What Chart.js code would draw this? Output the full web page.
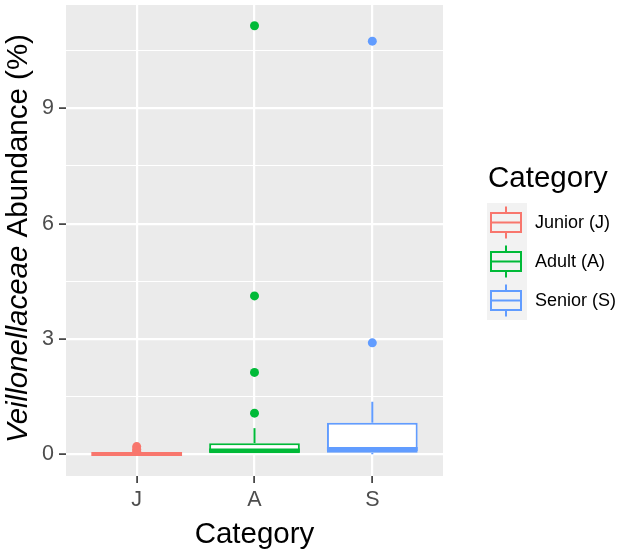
<!DOCTYPE html>
<html>
<head>
<meta charset="utf-8">
<script src="https://cdn.jsdelivr.net/npm/chart.js@4.4.0/dist/chart.umd.min.js"></script>
<style>
  html, body { margin: 0; padding: 0; background: #fff; }
  canvas { display: block; }
</style>
</head>
<body>
<canvas id="myChart" width="624" height="553"></canvas>
<script>
// box plot summary per group
const categories = ['J', 'A', 'S'];
const groupNames = ['Junior (J)', 'Adult (A)', 'Senior (S)'];
const whiskerLow = [0, 0, 0];
const q1 = [0, 0, 0.04];
const medians = [0.01, 0.1, 0.14];
const q3 = [0.02, 0.29, 0.82];
const whiskerHigh = [0.03, 0.68, 1.37];
const outliersJ = [0.2, 0.13, 0.08];
const outliersA = [11.15, 4.12, 2.13, 1.07];
const outliersS = [10.75, 2.9];
const yTickLabels = [0, 3, 6, 9];
const yMinorGrid = [1.5, 4.5, 7.5, 10.5];

const colors = ['#F8766D', '#00BA38', '#619CFF'];
const xTitle = 'Category';
const yTitleItalic = 'Veillonellaceae';
const yTitleRest = ' Abundance (%)';
const legendTitle = 'Category';
const FONT = '"Liberation Sans", Arial, sans-serif';
const TITLE_SIZE = 29.5;

const isMajor = (c) => c.tick && yTickLabels.includes(c.tick.value);

const boxParts = {
  id: 'boxParts',
  beforeDraw(chart) {
    const { ctx, chartArea: a } = chart;
    ctx.save();
    ctx.fillStyle = '#EBEBEB';
    ctx.fillRect(a.left, a.top, a.right - a.left, a.bottom - a.top);
    ctx.restore();
  },
  afterDatasetsDraw(chart) {
    const { ctx, scales: { x, y } } = chart;
    const meta = chart.getDatasetMeta(0);
    ctx.save();
    ctx.lineCap = 'butt';
    categories.forEach((c, i) => {
      const half = meta.data[i].width / 2;
      const cx = x.getPixelForValue(i + 1);
      ctx.strokeStyle = colors[i];
      ctx.lineWidth = 2;
      ctx.beginPath();
      ctx.moveTo(cx, y.getPixelForValue(q3[i]));
      ctx.lineTo(cx, y.getPixelForValue(whiskerHigh[i]));
      ctx.moveTo(cx, y.getPixelForValue(q1[i]));
      ctx.lineTo(cx, y.getPixelForValue(whiskerLow[i]));
      ctx.stroke();
      ctx.lineWidth = 4;
      ctx.beginPath();
      ctx.moveTo(cx - half, y.getPixelForValue(medians[i]));
      ctx.lineTo(cx + half, y.getPixelForValue(medians[i]));
      ctx.stroke();
    });
    ctx.restore();
  },
  afterDraw(chart) {
    const { ctx, chartArea: a } = chart;
    const titleFont = TITLE_SIZE + 'px ' + FONT;
    ctx.save();
    ctx.fillStyle = '#000';

    // x title
    ctx.font = titleFont;
    ctx.textAlign = 'center';
    ctx.textBaseline = 'alphabetic';
    ctx.fillText(xTitle, (a.left + a.right) / 2, 543);

    // y title, mixed italic / upright
    ctx.save();
    ctx.translate(27, (a.top + a.bottom) / 2 - 2);
    ctx.rotate(-Math.PI / 2);
    ctx.textAlign = 'left';
    ctx.font = 'italic ' + titleFont;
    const w1 = ctx.measureText(yTitleItalic).width;
    ctx.font = titleFont;
    const w2 = ctx.measureText(yTitleRest).width;
    const sx = -(w1 + w2) / 2;
    ctx.font = 'italic ' + titleFont;
    ctx.fillText(yTitleItalic, sx, 0);
    ctx.font = titleFont;
    ctx.fillText(yTitleRest, sx + w1, 0);
    ctx.restore();

    // legend
    ctx.textAlign = 'left';
    ctx.font = titleFont;
    ctx.fillText(legendTitle, 488, 187);
    ctx.fillStyle = '#F2F2F2';
    ctx.fillRect(487, 203, 40, 117);
    groupNames.forEach((name, i) => {
      const cy = 222.5 + i * 39;
      ctx.strokeStyle = colors[i];
      ctx.lineWidth = 2;
      ctx.strokeRect(491, cy - 9.5, 30, 19);
      ctx.beginPath();
      ctx.moveTo(491, cy); ctx.lineTo(521, cy);
      ctx.moveTo(506, cy - 9.5); ctx.lineTo(506, cy - 16);
      ctx.moveTo(506, cy + 9.5); ctx.lineTo(506, cy + 16);
      ctx.stroke();
      ctx.fillStyle = '#000';
      ctx.font = '18px ' + FONT;
      ctx.textBaseline = 'middle';
      ctx.fillText(name, 535, cy + 1);
    });
    ctx.restore();
  }
};

const outlierSet = (vals, i) => ({
  type: 'scatter',
  data: vals.map(v => ({ x: i + 1, y: v })),
  backgroundColor: colors[i],
  borderWidth: 0,
  pointRadius: 4.5,
  pointHoverRadius: 4.5,
  order: 1
});

new Chart(document.getElementById('myChart'), {
  type: 'bar',
  data: {
    datasets: [
      {
        type: 'bar',
        data: categories.map((c, i) => ({ x: i + 1, y: [q1[i], q3[i]] })),
        backgroundColor: '#fff',
        borderColor: colors,
        borderWidth: 2,
        borderSkipped: false,
        barPercentage: 0.77,
        categoryPercentage: 1,
        order: 2
      },
      outlierSet(outliersJ, 0),
      outlierSet(outliersA, 1),
      outlierSet(outliersS, 2)
    ]
  },
  options: {
    responsive: false,
    animation: false,
    layout: { padding: { top: 5, right: 181, left: 0, bottom: 0 } },
    plugins: { legend: { display: false }, tooltip: { enabled: false } },
    scales: {
      x: {
        type: 'linear',
        min: 0.4,
        max: 3.6,
        offset: false,
        afterBuildTicks(s) { s.ticks = categories.map((c, i) => ({ value: i + 1 })); },
        afterFit(s) { s.height = 77; s.paddingLeft = 0; s.paddingRight = 0; },
        ticks: {
          callback: (v) => categories[v - 1],
          font: { family: FONT, size: 21.5 },
          color: '#4D4D4D',
          padding: 4,
          maxRotation: 0
        },
        grid: { offset: false, color: '#fff', lineWidth: 2.2, tickColor: '#333', tickLength: 7, tickWidth: 1.6 },
        border: { display: false }
      },
      y: {
        min: -0.565,
        max: 11.69,
        afterBuildTicks(s) {
          s.ticks = yTickLabels.concat(yMinorGrid).sort((a, b) => a - b).map(v => ({ value: v }));
        },
        afterFit(s) { s.width = 66; s.paddingTop = 0; s.paddingBottom = 0; },
        ticks: {
          callback: (v) => yTickLabels.includes(v) ? String(v) : '',
          font: { family: FONT, size: 21.5 },
          color: '#4D4D4D',
          padding: 5
        },
        grid: {
          color: '#fff',
          lineWidth: (c) => isMajor(c) ? 2.2 : 1.1,
          tickColor: (c) => isMajor(c) ? '#333' : 'rgba(0,0,0,0)',
          tickLength: 7,
          tickWidth: 1.6
        },
        border: { display: false }
      }
    }
  },
  plugins: [boxParts]
});
</script>
</body>
</html>
